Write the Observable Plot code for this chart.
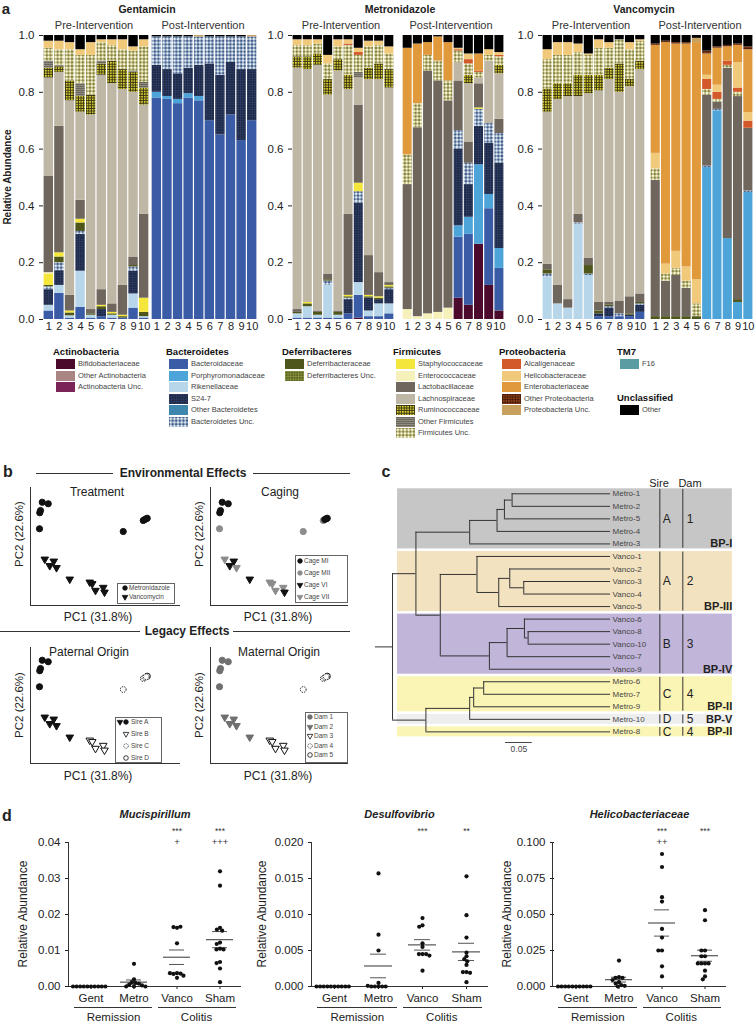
<!DOCTYPE html>
<html><head><meta charset="utf-8">
<script src="https://cdn.jsdelivr.net/npm/d3@7"></script>
<script src="https://cdn.jsdelivr.net/npm/@observablehq/plot@0.6"></script>
<style>
body{margin:0;background:#fff;}
#page{position:relative;width:756px;height:1025px;overflow:hidden;font-family:"Liberation Sans",Arial,Helvetica,sans-serif;color:#222;background:#fff;}
.t{position:absolute;white-space:nowrap;line-height:1;}
</style></head><body>
<svg width="0" height="0" style="position:absolute"><defs>
<pattern id="pS24" width="2.4" height="2.4" patternUnits="userSpaceOnUse"><rect width="2.4" height="2.4" fill="#1c2746"/><path d="M0 .4H2.4M.4 0V2.4" stroke="#34436c" stroke-width=".5"/></pattern>
<pattern id="pBUnc" width="3.6" height="3.6" patternUnits="userSpaceOnUse"><rect width="3.6" height="3.6" fill="#2f4d7d"/><circle cx="1.8" cy="1.8" r="1.55" fill="#e2edf6"/></pattern>
<pattern id="pFUnc" width="3.6" height="3.6" patternUnits="userSpaceOnUse"><rect width="3.6" height="3.6" fill="#76742a"/><circle cx="1.8" cy="1.8" r="1.55" fill="#fbf8d6"/></pattern>
<pattern id="pRum" width="2.6" height="2.6" patternUnits="userSpaceOnUse"><rect width="2.6" height="2.6" fill="#2e2c10"/><rect x=".8" y=".8" width="1.7" height="1.7" fill="#e0d435"/></pattern>
<pattern id="pDUnc" width="2.6" height="2.6" patternUnits="userSpaceOnUse"><rect width="2.6" height="2.6" fill="#5b6322"/><path d="M0 .4H2.6M.4 0V2.6" stroke="#9aa24a" stroke-width=".6"/></pattern>
<pattern id="pOFir" width="2" height="2" patternUnits="userSpaceOnUse"><rect width="2" height="2" fill="#8f8a7e"/><path d="M0 .5H2" stroke="#625e54" stroke-width=".8"/></pattern>
<pattern id="pOPro" width="2.6" height="2.6" patternUnits="userSpaceOnUse"><rect width="2.6" height="2.6" fill="#8a3d18"/><path d="M0 .4H2.6M.4 0V2.6" stroke="#3d1707" stroke-width=".7"/></pattern>
</defs></svg>
<div id="page"></div>
<script>
// ================= DATA =================
// ---- Panel a: taxa ----
const taxonKeys = ["Bif","OAct","AUnc","Bac","Por","Rik","S24","OBac","BUnc","Def","DUnc","Sta","Ent","Lac","Lach","Rum","OFir","FUnc","Alc","Hel","Enb","OPro","PUnc","F16","Oth"];
const taxonNames = ["Bifidobacteriaceae","Other Actinobacteria","Actinobacteria Unc.","Bacteroidaceae","Porphyromonadaceae","Rikenellaceae","S24-7","Other Bacteroidetes","Bacteroidetes Unc.","Deferribacteraceae","Deferribacteres Unc.","Staphylococcaceae","Enterococcaceae","Lactobacillaceae","Lachnospiraceae","Ruminococcaceae","Other Firmicutes","Firmicutes Unc.","Alcaligenaceae","Helicobacteraceae","Enterobacteriaceae","Other Proteobacteria","Proteobacteria Unc.","F16","Other"];
const taxonPhylum = ["Actinobacteria","Actinobacteria","Actinobacteria","Bacteroidetes","Bacteroidetes","Bacteroidetes","Bacteroidetes","Bacteroidetes","Bacteroidetes","Deferribacteres","Deferribacteres","Firmicutes","Firmicutes","Firmicutes","Firmicutes","Firmicutes","Firmicutes","Firmicutes","Proteobacteria","Proteobacteria","Proteobacteria","Proteobacteria","Proteobacteria","TM7","Unclassified"];
const taxonFills = ["#4b0a2c","#a98684","#7b2457","#3a5ba6","#4da4d9","#b8d6ea","url(#pS24)","#3d86ae","url(#pBUnc)","#4f561c","url(#pDUnc)","#f4e63a","#f6f1bb","#6f675d","#beb7a5","url(#pRum)","url(#pOFir)","url(#pFUnc)","#d3592b","#f1c97a","#e0993b","url(#pOPro)","#c9a15f","#5b9ca2","#000000"];

const gentPre = [
 {Bac:.03,Rik:.02,S24:.055,BUnc:.01,Def:.005,Sta:.04,Ent:.005,Lac:.34,Lach:.345,Rum:.035,OFir:.025,FUnc:.045,Hel:.025,Oth:.02},
 {Bac:.092,Rik:.028,S24:.052,BUnc:.028,Def:.02,Sta:.015,Lac:.445,Lach:.19,Rum:.02,OFir:.005,FUnc:.055,Hel:.03,Oth:.02},
 {Bac:.005,Rik:.008,Def:.01,Sta:.007,Lac:.055,Lach:.685,Rum:.07,FUnc:.11,Hel:.025,Oth:.025},
 {Bac:.043,Rik:.127,S24:.13,BUnc:.01,Def:.03,Sta:.013,Lac:.067,Lach:.31,Rum:.057,OFir:.043,FUnc:.1,Hel:.02,Oth:.05},
 {Bac:.005,Rik:.01,Def:.005,Lac:.015,Lach:.685,Rum:.07,FUnc:.14,Hel:.045,Oth:.025},
 {Bac:.01,S24:.025,Def:.01,Sta:.005,Lac:.055,Lach:.755,Rum:.04,OFir:.01,FUnc:.065,Hel:.01,Oth:.015},
 {Bac:.005,Rik:.01,Def:.005,Sta:.005,Lac:.03,Lach:.775,Rum:.08,FUnc:.055,Hel:.02,Oth:.015},
 {Bac:.005,Def:.005,Sta:.005,Lac:.105,Lach:.69,Rum:.07,FUnc:.07,Hel:.035,Oth:.015},
 {Bac:.04,Rik:.05,S24:.08,BUnc:.015,Def:.005,Lac:.03,Lach:.58,Rum:.07,OFir:.005,FUnc:.07,Hel:.015,Oth:.04},
 {Bac:.005,Rik:.005,Def:.015,Sta:.05,Lac:.295,Lach:.385,Rum:.06,OFir:.02,FUnc:.125,Hel:.025,Oth:.015}
];
const gentPost = [
 {Bac:.78,Por:.02,S24:.095,BUnc:.1,Oth:.005},
 {Bac:.775,Por:.01,S24:.095,BUnc:.115,Oth:.005},
 {Bac:.76,Por:.015,S24:.09,BUnc:.13,Oth:.005},
 {Bac:.78,Por:.015,S24:.09,BUnc:.11,Oth:.005},
 {Bac:.77,Por:.015,S24:.11,BUnc:.1,PUnc:.005},
 {Bac:.70,S24:.2,BUnc:.095,Oth:.005},
 {Bac:.65,S24:.21,BUnc:.135,Oth:.005},
 {Bac:.72,S24:.185,BUnc:.09,Oth:.005},
 {Bac:.63,S24:.25,BUnc:.115,Oth:.005},
 {Bac:.70,S24:.18,BUnc:.115,PUnc:.005}
];
const metroPre = [
 {Bac:.005,Rik:.015,Def:.005,Lac:.01,Lach:.85,Rum:.04,FUnc:.04,Hel:.02,Oth:.015},
 {Bac:.005,Rik:.04,Def:.01,Sta:.005,Lach:.82,Rum:.045,FUnc:.04,Hel:.02,Oth:.015},
 {Bac:.005,Rik:.01,Def:.01,Lac:.005,Lach:.865,Rum:.04,FUnc:.035,Hel:.015,Oth:.015},
 {Bac:.005,Rik:.115,BUnc:.015,Def:.005,Lac:.02,Lach:.63,Rum:.055,FUnc:.055,Hel:.03,Oth:.07},
 {Bac:.005,Rik:.01,Def:.01,Lac:.005,Lach:.845,Rum:.04,FUnc:.045,Hel:.025,Oth:.015},
 {Bac:.02,S24:.05,BUnc:.005,Def:.005,Sta:.005,Lac:.285,Lach:.44,Rum:.05,FUnc:.105,Alc:.005,Hel:.015,Oth:.015},
 {Bif:.005,Bac:.08,Rik:.045,S24:.28,BUnc:.04,Sta:.03,Lac:.275,Lach:.095,OFir:.02,FUnc:.06,Alc:.01,Hel:.015,Oth:.045},
 {Bac:.01,Rik:.02,S24:.045,Def:.005,Sta:.005,Lac:.14,Lach:.62,Rum:.04,FUnc:.075,Hel:.02,Oth:.02},
 {Bac:.01,Rik:.045,S24:.015,Def:.005,Sta:.005,Lac:.085,Lach:.68,Rum:.055,FUnc:.065,Hel:.015,Oth:.02},
 {Bac:.02,Rik:.035,S24:.05,BUnc:.005,Def:.005,Sta:.005,Lac:.01,Lach:.685,Rum:.065,FUnc:.055,Hel:.025,Oth:.04}
];
const metroPost = [
 {Ent:.035,Lac:.44,FUnc:.105,Enb:.375,Oth:.045},
 {Ent:.01,Lac:.665,FUnc:.085,Enb:.21,Oth:.03},
 {Ent:.02,Lac:.855,FUnc:.055,Enb:.045,Oth:.025},
 {Ent:.025,Lac:.815,FUnc:.07,Enb:.085,Oth:.005},
 {Ent:.04,Lac:.73,FUnc:.07,Enb:.135,Oth:.025},
 {Bif:.075,Bac:.215,Por:.04,S24:.27,BUnc:.065,Lac:.175,Lach:.065,FUnc:.04,Alc:.005,Hel:.005,Oth:.045},
 {Bif:.05,Bac:.25,Por:.06,S24:.115,BUnc:.075,Lac:.075,Lach:.205,Rum:.03,FUnc:.04,Alc:.015,Hel:.02,Oth:.065},
 {Bif:.265,Por:.28,S24:.135,BUnc:.06,Sta:.005,Lac:.085,Lach:.02,FUnc:.02,Alc:.005,Enb:.06,Oth:.065},
 {Bif:.12,Bac:.27,Por:.05,S24:.18,BUnc:.07,Lach:.22,FUnc:.02,Hel:.02,Oth:.05},
 {Bif:.03,Bac:.15,Por:.07,S24:.3,BUnc:.105,Lac:.05,Lach:.16,Rum:.03,FUnc:.03,Alc:.005,Hel:.01,Oth:.06}
];
const vancoPre = [
 {Rik:.15,BUnc:.01,Def:.015,Lac:.02,Lach:.535,Rum:.08,FUnc:.105,Hel:.035,Oth:.05},
 {Rik:.055,Lac:.065,Lach:.655,Rum:.055,FUnc:.1,Hel:.045,Oth:.025},
 {Rik:.04,Lac:.03,Lach:.715,Rum:.045,FUnc:.1,Hel:.045,Oth:.025},
 {Rik:.335,BUnc:.005,Lac:.03,Lach:.415,Rum:.075,FUnc:.08,Hel:.03,Oth:.03},
 {Rik:.155,BUnc:.005,Def:.03,Lac:.025,Lach:.58,Rum:.065,FUnc:.07,Hel:.005,Oth:.065},
 {Bac:.01,S24:.01,Def:.01,Lac:.03,Lach:.745,Rum:.055,FUnc:.095,Hel:.03,Oth:.015},
 {Bac:.01,S24:.03,BUnc:.005,Def:.005,Lac:.01,Lach:.785,Rum:.04,FUnc:.07,Hel:.02,Oth:.025},
 {Bac:.01,BUnc:.01,Lac:.045,Lach:.735,Rum:.1,FUnc:.085,Oth:.015},
 {Bac:.01,S24:.005,Def:.005,Lac:.06,Lach:.74,Rum:.025,FUnc:.105,Hel:.025,Oth:.025},
 {Bac:.025,S24:.025,BUnc:.005,Def:.005,Lac:.03,Lach:.79,Rum:.03,FUnc:.07,Hel:.005,Oth:.015}
];
const vancoPost = [
 {Def:.01,Lac:.48,FUnc:.04,Hel:.055,Enb:.38,OPro:.005,Oth:.03},
 {Def:.01,Lac:.125,FUnc:.025,Hel:.035,Enb:.78,OPro:.005,Oth:.02},
 {Def:.01,Lac:.145,FUnc:.025,Hel:.06,Enb:.73,OPro:.005,Oth:.025},
 {Def:.01,Lac:.1,FUnc:.025,Hel:.05,Enb:.785,OPro:.005,Oth:.025},
 {Def:.01,FUnc:.045,Hel:.085,Enb:.835,PUnc:.015,Oth:.01},
 {Por:.535,BUnc:.005,Lac:.25,FUnc:.02,Alc:.035,Hel:.015,Enb:.075,OPro:.01,Oth:.055},
 {Por:.735,BUnc:.005,Lac:.025,FUnc:.01,Alc:.025,Hel:.025,Enb:.13,OPro:.005,Oth:.04},
 {Por:.285,Lac:.6,FUnc:.01,Alc:.015,Enb:.05,OPro:.005,Oth:.035},
 {Por:.06,Def:.01,Lac:.715,FUnc:.015,Alc:.015,Hel:.09,Enb:.06,OPro:.005,Oth:.03},
 {Por:.445,BUnc:.005,Lac:.22,Alc:.025,Hel:.03,Enb:.22,OPro:.01,Oth:.04}
];
const barNumbers = ["1","2","3","4","5","6","7","8","9","10"];
const abTitles = ["Gentamicin","Metronidazole","Vancomycin"];
const phaseTitles = ["Pre-Intervention","Post-Intervention"];
const relTicks = [0,0.2,0.4,0.6,0.8,1.0];

// ---- Panel b: PCoA ----
const sampleNames = ["Metro-1","Metro-2","Metro-3","Metro-4","Metro-5","Metro-6","Metro-7","Metro-8","Metro-9","Metro-10","Vanco-1","Vanco-2","Vanco-3","Vanco-4","Vanco-5","Vanco-6","Vanco-7","Vanco-8","Vanco-9","Vanco-10"];
const pc1 = [-0.233,-0.209,-0.244,-0.243,-0.240,0.171,0.177,0.091,0.183,0.187,-0.223,-0.203,-0.187,-0.176,-0.123,-0.043,-0.033,-0.020,0.011,0.016];
const pc2 = [0.173,0.167,0.067,0.131,0.140,0.100,0.104,0.056,0.107,0.109,-0.055,-0.081,-0.063,-0.089,-0.135,-0.147,-0.153,-0.180,-0.168,-0.187];
const treatment = ["Metronidazole","Metronidazole","Metronidazole","Metronidazole","Metronidazole","Metronidazole","Metronidazole","Metronidazole","Metronidazole","Metronidazole","Vancomycin","Vancomycin","Vancomycin","Vancomycin","Vancomycin","Vancomycin","Vancomycin","Vancomycin","Vancomycin","Vancomycin"];
const cage = ["Cage MI","Cage MI","Cage MII","Cage MI","Cage MI","Cage MII","Cage MI","Cage MII","Cage MI","Cage MI","Cage VII","Cage VI","Cage VI","Cage VII","Cage VI","Cage VII","Cage VII","Cage VII","Cage VII","Cage VI"];
const sire = ["Sire A","Sire A","Sire A","Sire A","Sire A","Sire C","Sire C","Sire C","Sire C","Sire D","Sire A","Sire A","Sire A","Sire A","Sire A","Sire B","Sire B","Sire B","Sire B","Sire B"];
const dam = ["Dam 1","Dam 1","Dam 1","Dam 1","Dam 1","Dam 4","Dam 4","Dam 4","Dam 4","Dam 5","Dam 2","Dam 2","Dam 2","Dam 2","Dam 2","Dam 3","Dam 3","Dam 3","Dam 3","Dam 3"];

// ---- Panel c: tree ----
const leafNames = ["Metro-1","Metro-2","Metro-5","Metro-4","Metro-3","Vanco-1","Vanco-2","Vanco-3","Vanco-4","Vanco-5","Vanco-6","Vanco-8","Vanco-10","Vanco-7","Vanco-9","Metro-6","Metro-7","Metro-9","Metro-10","Metro-8"];
const leafParents = ["m395","m395","m372","m350","MA","v290","v388","v430","v430","v355","v432","v443","v443","v380","v327","I","I","J","K","L"];
const nodeNames = ["root","U","MA","m350","m372","m395","VC","v290","v355","v388","v430","v327","v380","v432","v443","L","K","J","I"];
const nodeParents = [null,"root","U","MA","m350","m372","U","VC","v290","v355","v388","VC","v327","v380","v432","root","L","K","J"];
const nodeDepths = [0,0.0438,0.1444,0.1956,0.2094,0.2238,0.0894,0.1581,0.1988,0.2194,0.2456,0.1813,0.2144,0.2469,0.2538,0.0625,0.1444,0.1519,0.1706];
const leafDepth = 0.4081;
const rootBranch = 0.032;
const cladeLabels = ["BP-I","BP-III","BP-IV","BP-II","BP-V","BP-II"];
const cladeStart = [0,5,10,15,18,19];
const cladeEnd = [4,9,14,17,18,19];
const cladeSire = ["A","A","B","C","D","C"];
const cladeDam = ["1","2","3","4","5","4"];
const cladeColors = ["#c6c6c6","#f2e2c0","#c1b5da","#fbf5b5","#eeeeee","#fbf5b5"];
const scaleBarLength = 0.05;

// ---- Panel d: dot plots ----
const dGroups = ["Gent","Metro","Vanco","Sham"];
const muciGent = [0,0,0,0,0,0,0,0,0,0];
const muciMetro = [0.0063,0.002,0.0012,0.001,0.0008,0.0005,0.0003,0,0,0];
const muciVanco = [0.0163,0.0165,0.0166,0.012,0.0037,0.0035,0.0036,0.0037,0.0024,0.003];
const muciSham = [0.032,0.028,0.0163,0.0158,0.0155,0.0122,0.0118,0.0105,0.0103,0.0103,0.0068,0.0065,0.005,0.0012];
const desGent = [0,0,0,0,0,0,0,0,0,0];
const desMetro = [0.0157,0.0072,0.005,0.0005,0,0,0,0,0,0.0001];
const desVanco = [0.0095,0.0085,0.0083,0.006,0.0055,0.0045,0.0045,0.0045,0.0043,0.0022];
const desSham = [0.0153,0.0099,0.0068,0.0047,0.0042,0.0038,0.0035,0.003,0.002,0.002,0.0019,0.0006];
const helGent = [0,0,0,0,0,0,0,0,0,0];
const helMetro = [0.018,0.0065,0.006,0.006,0.0045,0.003,0.002,0.001,0.0005,0];
const helVanco = [0.092,0.083,0.062,0.059,0.040,0.034,0.025,0.025,0.014,0.007];
const helSham = [0.053,0.046,0.025,0.025,0.021,0.021,0.016,0.016,0.016,0.016,0.011,0.007,0.005];
const muciTicks = [0,0.01,0.02,0.03,0.04];
const desTicks = [0,0.005,0.010,0.015,0.020];
const helTicks = [0,0.025,0.050,0.075,0.100];
const muciSig = [{group:"Vanco",stars:"***",plus:"+"},{group:"Sham",stars:"***",plus:"+++"}];
const desSig = [{group:"Vanco",stars:"***",plus:""},{group:"Sham",stars:"**",plus:""}];
const helSig = [{group:"Vanco",stars:"***",plus:"++"},{group:"Sham",stars:"***",plus:""}];

// ================= HELPERS =================
const FONT = '"Liberation Sans", Arial, Helvetica, sans-serif';
const page = document.getElementById("page");
function put(el, x, y){ el.style.position="absolute"; el.style.left=x+"px"; el.style.top=y+"px"; page.appendChild(el); return el; }
function label(s, x, y, o={}){
  const {size=11, weight=400, italic=false, anchor="middle", color="#222", rotate=false} = o;
  const d = document.createElement("div"); d.className="t"; d.textContent = s;
  d.style.fontSize = size+"px"; d.style.fontWeight = weight; d.style.color = color;
  if (italic) d.style.fontStyle = "italic";
  const tx = anchor==="middle" ? "-50%" : anchor==="end" ? "-100%" : "0";
  d.style.transform = `translate(${tx},-50%)` + (rotate ? " rotate(-90deg)" : "");
  return put(d, x, y);
}
function hline(x1, x2, y, color="#333"){
  const d=document.createElement("div"); d.style.width=(x2-x1)+"px"; d.style.height="1px"; d.style.background=color;
  return put(d, x1, y);
}
const baseStyle = {background:"none", fontFamily:FONT, color:"#222", overflow:"visible"};
const triDown = {draw(ctx, size){ const s3=Math.sqrt(3); const y=-Math.sqrt(size/(s3*3)); ctx.moveTo(0,-y*2); ctx.lineTo(-s3*y,y); ctx.lineTo(s3*y,y); ctx.closePath(); }};
function symbolSvg(s, r=2.3){
  const ns="http://www.w3.org/2000/svg";
  const svg=document.createElementNS(ns,"svg"); svg.setAttribute("width",10); svg.setAttribute("height",10);
  const p=document.createElementNS(ns,"path");
  const type = s.shape==="tri" ? triDown : d3.symbolCircle;
  const rr = s.shape==="tri" ? r*0.9 : r;
  p.setAttribute("d", d3.symbol(type, Math.PI*rr*rr)());
  p.setAttribute("transform","translate(5,5)");
  p.setAttribute("fill", s.fill); p.setAttribute("stroke", s.stroke); p.setAttribute("stroke-width", 0.8);
  if (s.dash) p.setAttribute("stroke-dasharray","1,0.9");
  svg.appendChild(p); return svg;
}

// ================= PANEL A =================
label("a", 6, 8, {size:15, weight:700});
label("Relative Abundance", 8, 177, {size:10, weight:700, rotate:true});
function stackChart(pre, post, gap, left, width, marginLeft, marginRight){
  const rows = [];
  [pre, post].forEach((block, b) => block.forEach((bar, i) => {
    const x1 = b ? 10 + gap + i : i;
    taxonKeys.forEach(k => { if (bar[k]) rows.push({x1, x2: x1 + 1, taxon: k, value: bar[k]}); });
  }));
  const tickPos = [], tickMap = new Map();
  barNumbers.forEach((n, i) => { tickPos.push(i + 0.5); tickMap.set(i + 0.5, n); });
  barNumbers.forEach((n, i) => { const p = 10 + gap + i + 0.5; tickPos.push(p); tickMap.set(p, n); });
  const svg = Plot.plot({
    width, height: 305, marginLeft, marginRight, marginTop: 5, marginBottom: 16,
    style: {...baseStyle, fontSize: "11px"},
    x: {domain: [0, 20 + gap]},
    y: {domain: [0, 1]},
    color: {domain: taxonKeys, range: taxonFills},
    marks: [
      Plot.rectY(rows, {x1: "x1", x2: "x2", y: "value", fill: "taxon", order: taxonKeys, offset: "normalize", insetLeft: 0.6, insetRight: 0.6}),
      Plot.axisY({ticks: relTicks, tickFormat: d3.format(".1f"), tickSize: 4, label: null, fontSize: 11.5}),
      Plot.axisX({ticks: tickPos, tickFormat: d => tickMap.get(d), tickSize: 0, tickPadding: 3, label: null, fontSize: 11})
    ]
  });
  put(svg, left, 30);
}
stackChart(gentPre, gentPost, 0.2, 0, 260, 43, 3);
stackChart(metroPre, metroPost, 0.8, 250, 256, 42, 2);
stackChart(vancoPre, vancoPost, 0.5, 500, 256, 42, 3);
[[147,94,203],[400,341,451],[644,591,700]].forEach(([t,p1,p2],k) => {
  label(abTitles[k], t, 9, {size:10.5, weight:700});
  label(phaseTitles[0], p1, 25, {size:11, color:"#333"});
  label(phaseTitles[1], p2, 25, {size:11, color:"#333"});
});
// legend a
const phylumLayout = {Actinobacteria:[53,351.5], Bacteroidetes:[166,351.5], Deferribacteres:[282,351.5], Firmicutes:[393,351.5], Proteobacteria:[499,351.5], TM7:[617,351.5], Unclassified:[617,397.5]};
Object.entries(phylumLayout).forEach(([ph,[x,y]]) => {
  label(ph, x, y, {size:9.5, weight:700, anchor:"start", color:"#111"});
  let k = 0;
  taxonKeys.forEach((key, i) => {
    if (taxonPhylum[i] !== ph) return;
    const cy = y + 12.8 + k * 11.5;
    const ns="http://www.w3.org/2000/svg";
    const sw=document.createElementNS(ns,"svg"); sw.setAttribute("width",19); sw.setAttribute("height",10);
    const r=document.createElementNS(ns,"rect"); r.setAttribute("width",19); r.setAttribute("height",10); r.setAttribute("fill",taxonFills[i]);
    sw.appendChild(r); put(sw, x + 3, cy - 5);
    label(taxonNames[i], x + 25, cy, {size:7.5, anchor:"start", color:"#444"});
    k++;
  });
});

// ================= PANEL B =================
label("b", 8, 472, {size:16, weight:700});
label("Environmental Effects", 183, 473, {size:12, weight:700});
hline(36, 113, 473); hline(253, 350, 473);
label("Legacy Effects", 187, 631, {size:12, weight:700});
hline(0, 140, 631); hline(233, 350, 631);
const blk = "#111", gry = "#8c8c8c";
const treatStyle = i => ({shape: treatment[i]==="Metronidazole" ? "circle" : "tri", fill: blk, stroke: blk});
const cageStyle = i => ({shape: cage[i]==="Cage MI"||cage[i]==="Cage MII" ? "circle" : "tri", fill: (cage[i]==="Cage MII"||cage[i]==="Cage VII") ? gry : blk, stroke: (cage[i]==="Cage MII"||cage[i]==="Cage VII") ? gry : blk});
const sireStyle = i => {
  const s = sire[i];
  if (s==="Sire A") return {shape: treatment[i]==="Metronidazole" ? "circle" : "tri", fill: blk, stroke: blk};
  if (s==="Sire B") return {shape:"tri", fill:"white", stroke: blk};
  if (s==="Sire C") return {shape:"circle", fill:"white", stroke: blk, dash:true};
  return {shape:"circle", fill:"white", stroke: blk};
};
const damStyle = i => {
  const d = dam[i];
  if (d==="Dam 1") return {shape:"circle", fill:"#6f6f6f", stroke:"#6f6f6f"};
  if (d==="Dam 2") return {shape:"tri", fill:"#6f6f6f", stroke:"#6f6f6f"};
  if (d==="Dam 3") return {shape:"tri", fill:"white", stroke: blk};
  if (d==="Dam 4") return {shape:"circle", fill:"white", stroke: blk, dash:true};
  return {shape:"circle", fill:"white", stroke: blk};
};
function pcaChart(left, top, w, h, styleOf){
  const xDom = [-0.28, -0.28 + w/250], yDom = [-0.24, -0.24 + h/250];
  const pts = sampleNames.map((n,i) => ({n, x: pc1[i], y: pc2[i], ...styleOf(i)}));
  const common = {x:"x", y:"y", fill:"fill", stroke:"stroke", strokeWidth:1};
  const svg = Plot.plot({
    width: w, height: h, margin: 0, style: baseStyle,
    x: {domain: xDom, axis: null}, y: {domain: yDom, axis: null},
    marks: [
      Plot.ruleX([xDom[0]], {stroke:"#333"}), Plot.ruleY([yDom[0]], {stroke:"#333"}),
      Plot.dot(pts.filter(p => p.shape==="tri"), {...common, r: 2.8, symbol: triDown}),
      Plot.dot(pts.filter(p => p.shape==="circle" && !p.dash), {...common, r: 3.1}),
      Plot.dot(pts.filter(p => p.shape==="circle" && p.dash), {...common, r: 2.9, strokeDasharray: "1.3,1.1"})
    ]
  });
  put(svg, left, top);
}
pcaChart(30, 487, 150, 118, treatStyle);
pcaChart(210, 487, 138, 118, cageStyle);
pcaChart(30, 647, 150, 116, sireStyle);
pcaChart(210, 647, 138, 116, damStyle);
label("Treatment", 97, 492, {size:12});
label("Caging", 280, 492, {size:12});
label("Paternal Origin", 89, 652, {size:12});
label("Maternal Origin", 279, 652, {size:12});
[[20,534],[200,534],[20,705],[200,705]].forEach(([x,y]) => label("PC2 (22.6%)", x, y, {size:11.5, rotate:true}));
[[98,617],[278,617],[98,776],[278,776]].forEach(([x,y]) => label("PC1 (31.8%)", x, y, {size:12}));
function pcaLegend(x, y, w, h, first, step, symX, textX, items){
  const box = document.createElement("div");
  box.style.cssText = `width:${w}px;height:${h}px;border:1px solid #666;box-sizing:border-box;background:#fff`;
  put(box, x, y);
  items.forEach((it, k) => {
    const cy = y + first + k * step;
    it.syms.forEach((s, j) => put(symbolSvg(s), (it.sx ? it.sx[j] : symX) - 5, cy - 5));
    label(it.text, textX, cy, {size:6.5, anchor:"start", color:"#444"});
  });
}
pcaLegend(117, 583, 58, 21, 5, 9.2, 125, 129, [
  {syms:[{shape:"circle",fill:blk,stroke:blk}], text:"Metronidazole"},
  {syms:[{shape:"tri",fill:blk,stroke:blk}], text:"Vancomycin"}]);
pcaLegend(295, 555, 53, 48, 5.5, 12.2, 300, 304, [
  {syms:[{shape:"circle",fill:blk,stroke:blk}], text:"Cage MI"},
  {syms:[{shape:"circle",fill:gry,stroke:gry}], text:"Cage MII"},
  {syms:[{shape:"tri",fill:blk,stroke:blk}], text:"Cage VI"},
  {syms:[{shape:"tri",fill:gry,stroke:gry}], text:"Cage VII"}]);
pcaLegend(115, 717, 47, 46, 5, 12, 126, 131, [
  {syms:[{shape:"tri",fill:blk,stroke:blk},{shape:"circle",fill:blk,stroke:blk}], sx:[120,126], text:"Sire A"},
  {syms:[{shape:"tri",fill:"white",stroke:blk}], text:"Sire B"},
  {syms:[{shape:"circle",fill:"white",stroke:blk,dash:true}], text:"Sire C"},
  {syms:[{shape:"circle",fill:"white",stroke:blk}], text:"Sire D"}]);
pcaLegend(305, 712, 43, 51, 5.3, 9.5, 310, 314, [
  {syms:[{shape:"circle",fill:"#6f6f6f",stroke:"#6f6f6f"}], text:"Dam 1"},
  {syms:[{shape:"tri",fill:"#6f6f6f",stroke:"#6f6f6f"}], text:"Dam 2"},
  {syms:[{shape:"tri",fill:"white",stroke:blk}], text:"Dam 3"},
  {syms:[{shape:"circle",fill:"white",stroke:blk,dash:true}], text:"Dam 4"},
  {syms:[{shape:"circle",fill:"white",stroke:blk}], text:"Dam 5"}]);

// ================= PANEL C =================
label("c", 386, 472, {size:16, weight:700});
label("Sire", 659, 483, {size:11});
label("Dam", 690, 483, {size:11});
{
  const nodes = new Map();
  nodeNames.forEach((n,i) => nodes.set(n, {name:n, parent:nodeParents[i], depth:nodeDepths[i], children:[]}));
  leafNames.forEach((n,i) => nodes.set(n, {name:n, parent:leafParents[i], depth:leafDepth, children:[], y:i, leaf:true}));
  for (const nd of nodes.values()) if (nd.parent) nodes.get(nd.parent).children.push(nd);
  const setY = nd => nd.leaf ? nd.y : (nd.y = d3.mean(nd.children, setY));
  const root = nodes.get("root"); setY(root);
  const all = [...nodes.values()];
  const hSeg = all.filter(n => n.parent).map(n => ({x1: nodes.get(n.parent).depth, x2: n.depth, y: n.y}));
  hSeg.push({x1: -rootBranch, x2: 0, y: root.y});
  const vSeg = all.filter(n => !n.leaf).map(n => ({x: n.depth, y1: d3.min(n.children, c => c.y), y2: d3.max(n.children, c => c.y)}));
  const leaves = leafNames.map((name, i) => ({name, i}));
  const clades = cladeLabels.map((lab, k) => ({lab, start: cladeStart[k], end: cladeEnd[k], sire: cladeSire[k], dam: cladeDam[k], color: cladeColors[k]}));
  const col = {band0: 0.0094, band1: 0.636, sire: 0.5003, dam: 0.5433, bp: 0.6358};
  const bar = {from: 0.2115, y: 19.85};
  const svg = Plot.plot({
    width: 376, height: 295, margin: 0, style: baseStyle,
    x: {domain: [-0.0225, 0.6812], axis: null},
    y: {domain: [-2.658, 20.886], reverse: true, axis: null},
    marks: [
      Plot.rect(clades, {x1: () => col.band0, x2: () => col.band1, y1: d => d.start - 0.4, y2: d => d.end + 0.4, fill: "color"}),
      Plot.ruleY(hSeg, {y: "y", x1: "x1", x2: "x2", stroke: "#333", strokeWidth: 1}),
      Plot.ruleX(vSeg, {x: "x", y1: "y1", y2: "y2", stroke: "#333", strokeWidth: 1}),
      Plot.text(leaves, {x: () => leafDepth, y: "i", text: "name", textAnchor: "start", dx: 2, fontSize: 8, fill: "#444"}),
      Plot.ruleX(clades, {x: () => col.sire, y1: d => d.start - 0.35, y2: d => d.end + 0.35, stroke: "#333"}),
      Plot.ruleX(clades, {x: () => col.dam, y1: d => d.start - 0.35, y2: d => d.end + 0.35, stroke: "#333"}),
      Plot.text(clades, {x: () => col.sire, y: d => (d.start + d.end) / 2, text: "sire", textAnchor: "start", dx: 3, fontSize: 12, fill: "#222"}),
      Plot.text(clades, {x: () => col.dam, y: d => (d.start + d.end) / 2, text: "dam", textAnchor: "start", dx: 4, fontSize: 12, fill: "#222"}),
      Plot.text(clades, {x: () => col.bp, y: "end", text: "lab", textAnchor: "end", fontSize: 11, fontWeight: "bold", fill: "#222"}),
      Plot.ruleY([bar], {y: d => d.y, x1: d => d.from, x2: d => d.from + scaleBarLength, stroke: "#444"}),
      Plot.text([bar], {x: d => d.from + scaleBarLength / 2, y: d => d.y, text: () => String(scaleBarLength), dy: 7, fontSize: 8.5, fill: "#444"})
    ]
  });
  put(svg, 380, 460);
}

// ================= PANEL D =================
label("d", 7, 816, {size:16, weight:700});
function dotChart(title, values, ticks, fmt, sig, left, width, marginLeft, marginRight, ylabX){
  const pts = [];
  dGroups.forEach((g, gi) => values[gi].forEach(v => pts.push({group: g, value: v})));
  const stats = dGroups.map((g, gi) => {
    const v = values[gi], m = d3.mean(v), s = d3.deviation(v) / Math.sqrt(v.length);
    return {group: g, mean: m, lo: m - s, hi: m + s};
  }).filter(d => d.mean > 0);
  const top = ticks[ticks.length - 1];
  const H = 191, mT = 27, mB = 20;
  const svg = Plot.plot({
    width, height: H, marginLeft, marginRight, marginTop: mT, marginBottom: mB,
    style: {...baseStyle, fontSize: "11.5px"},
    fx: {domain: dGroups, padding: 0, axis: "bottom", label: null, tickSize: 3, tickPadding: 4},
    y: {domain: [0, top], ticks, tickFormat: d3.format(fmt), tickSize: 4, label: null},
    marks: [
      Plot.ruleY([0], {stroke: "#333"}),
      Plot.ruleX(stats, {fx: "group", y1: "lo", y2: "hi", stroke: "#555", strokeWidth: 1}),
      Plot.tickY(stats, {fx: "group", y: "mean", insetLeft: 8, insetRight: 8, stroke: "#555", strokeWidth: 1.2}),
      Plot.tickY(stats, {fx: "group", y: "hi", insetLeft: 14, insetRight: 14, stroke: "#555", strokeWidth: 1}),
      Plot.tickY(stats, {fx: "group", y: "lo", insetLeft: 14, insetRight: 14, stroke: "#555", strokeWidth: 1}),
      Plot.dot(pts, Plot.dodgeX({anchor: "middle", padding: -0.6}, {fx: "group", y: "value", r: 2.1, fill: "#111"})),
      Plot.text(sig, {fx: "group", y: () => top, text: "stars", dy: -11, fontSize: 8.5, fill: "#333"}),
      Plot.text(sig.filter(d => d.plus), {fx: "group", y: () => top, text: "plus", dy: -1, fontSize: 9.5, fill: "#333"})
    ]
  });
  const ns = "http://www.w3.org/2000/svg";
  const ln = document.createElementNS(ns, "line");
  ln.setAttribute("x1", marginLeft + 0.5); ln.setAttribute("x2", marginLeft + 0.5);
  ln.setAttribute("y1", mT); ln.setAttribute("y2", H - mB); ln.setAttribute("stroke", "#333");
  svg.appendChild(ln);
  put(svg, left, 815);
  const x0 = left + marginLeft, band = (width - marginLeft - marginRight) / 4;
  label(title, x0 + 2 * band, 814, {size: 11, weight: 700, italic: true});
  label("Relative Abundance", ylabX, 914, {size: 12, rotate: true});
  hline(x0 + 6, x0 + 2 * band - 3, 1007); hline(x0 + 2 * band + 3, x0 + 4 * band - 6, 1007);
  label("Remission", x0 + band + 2, 1018, {size: 11.5});
  label("Colitis", x0 + 3 * band - 2, 1018, {size: 11.5});
}
dotChart("Mucispirillum", [muciGent, muciMetro, muciVanco, muciSham], muciTicks, ".2f", muciSig, 0, 250, 68, 8, 23);
dotChart("Desulfovibrio", [desGent, desMetro, desVanco, desSham], desTicks, ".3f", desSig, 250, 250, 61, 12, 262);
dotChart("Helicobacteriaceae", [helGent, helMetro, helVanco, helSham], helTicks, ".3f", helSig, 500, 256, 52, 29, 507);
</script></body></html>
